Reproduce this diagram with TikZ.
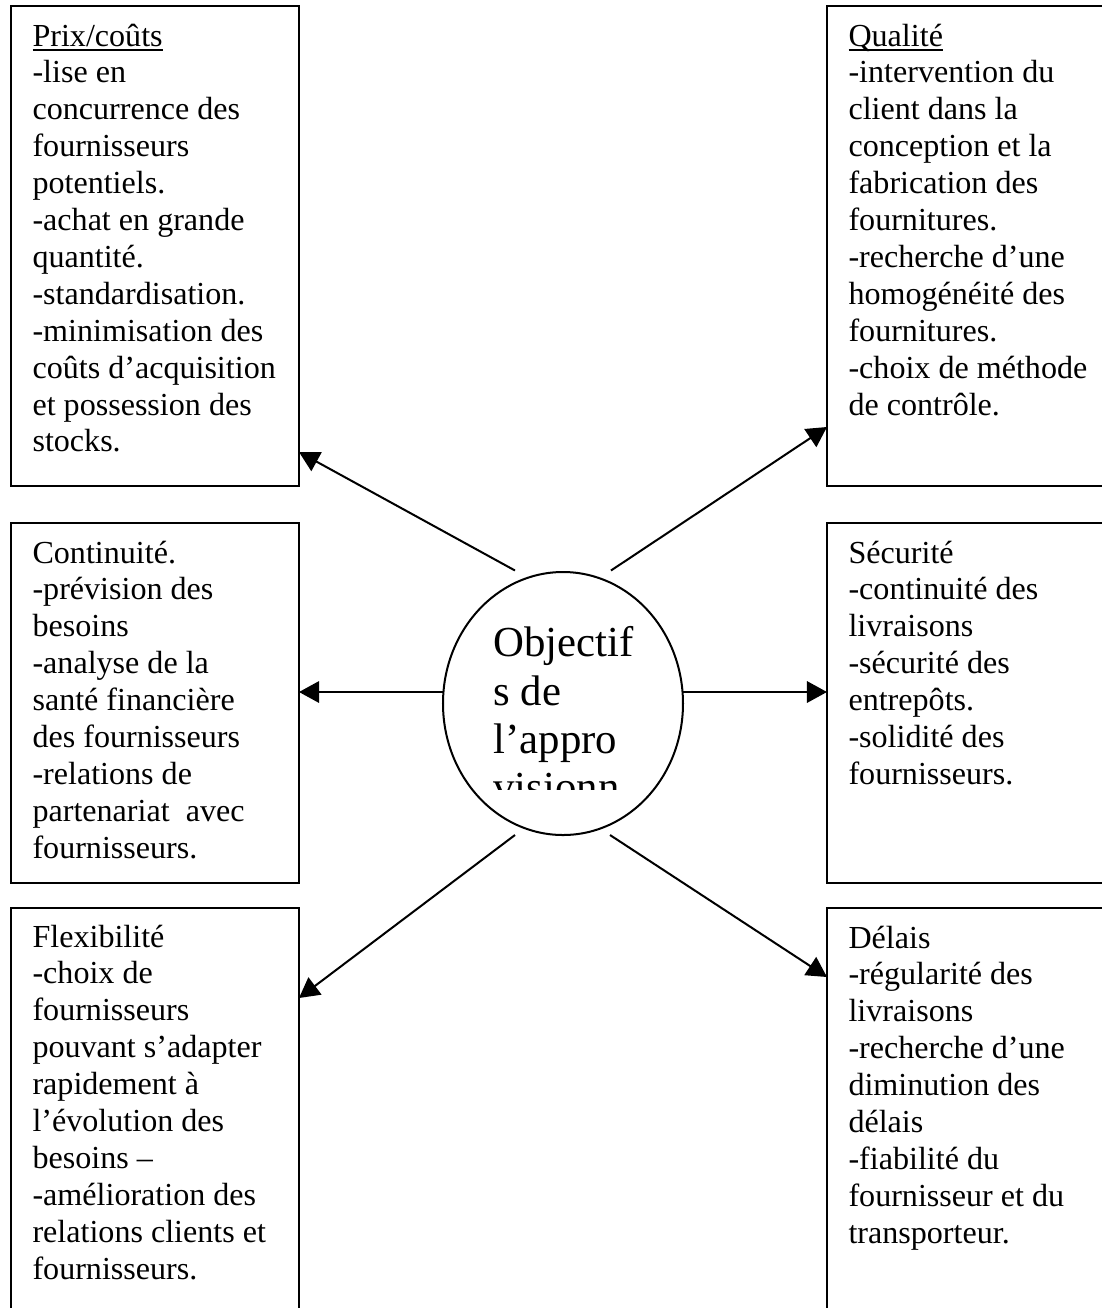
\documentclass[tikz,border=0pt]{standalone}
\usepackage{fontspec}
\setmainfont{Liberation Serif}
\usetikzlibrary{arrows.meta,shapes.geometric,calc}
\newcommand\myul[1]{\leavevmode\setbox0\hbox{#1}\rlap{\rule[-1.75pt]{\wd0}{0.7pt}}\box0}
\begin{document}
\begin{tikzpicture}[x=0.374pt,y=-0.374pt,
  boxst/.style 2 args={draw, line width=0.75pt, rectangle, inner sep=0pt, outer sep=0pt,
    minimum width=#1*0.374pt, minimum height=#2*0.374pt},
  txt/.style={anchor=base west, inner sep=0pt, font=\fontsize{12}{13.8}\selectfont},
  arr/.style={line width=0.75pt, -{Triangle[length=7.5pt,width=8pt]}}]
\useasboundingbox (0,0) rectangle (1102,1308);
\clip (0,0) rectangle (1102,1308);

% boxes
\node[boxst={288}{480}] (prix) at (155,246) {};
\node[boxst={288}{360}] (cont) at (155,703) {};
\node[boxst={288}{432}] (flex) at (155,1124) {};
\node[boxst={293}{480}] (qual) at (973.5,246) {};
\node[boxst={293}{360}] (secu) at (973.5,703) {};
\node[boxst={293}{432}] (delais) at (973.5,1124) {};

% texts
\node[txt] (prixtxt) at ($(prix.north west)+(21,40)$) {\parbox[t]{130pt}{\myul{Prix/coûts}\\
-lise en\\
concurrence des\\
fournisseurs\\
potentiels.\\
-achat en grande\\
quantité.\\
-standardisation.\\
-minimisation des\\
coûts d’acquisition\\
et possession des\\
stocks.}};

\node[txt] (qualtxt) at ($(qual.north west)+(21,40)$) {\parbox[t]{130pt}{\myul{Qualité}\\
-intervention du\\
client dans la\\
conception et la\\
fabrication des\\
fournitures.\\
-recherche d’une\\
homogénéité des\\
fournitures.\\
-choix de méthode\\
de contrôle.}};

\node[txt] (conttxt) at ($(cont.north west)+(21,40)$) {\parbox[t]{130pt}{Continuité.\\
-prévision des\\
besoins\\
-analyse de la\\
santé financière\\
des fournisseurs\\
-relations de\\
partenariat\ \ avec\\
fournisseurs.}};

\node[txt] (secutxt) at ($(secu.north west)+(21,40)$) {\parbox[t]{130pt}{Sécurité\\
-continuité des\\
livraisons\\
-sécurité des\\
entrepôts.\\
-solidité des\\
fournisseurs.}};

\node[txt] (flextxt) at ($(flex.north west)+(21,39)$) {\parbox[t]{130pt}{Flexibilité\\
-choix de\\
fournisseurs\\
pouvant s’adapter\\
rapidement à\\
l’évolution des\\
besoins –\\
-amélioration des\\
relations clients et\\
fournisseurs.}};

\node[txt] (delaistxt) at ($(delais.north west)+(21,40)$) {\parbox[t]{130pt}{Délais\\
-régularité des\\
livraisons\\
-recherche d’une\\
diminution des\\
délais\\
-fiabilité du\\
fournisseur et du\\
transporteur.}};

% centre
\node[draw, ellipse, line width=0.75pt, inner sep=0pt, outer sep=0pt,
  minimum width=240*0.374pt, minimum height=263*0.374pt] (obj) at (563,703.5) {};
\begin{scope}
\clip (470,560) rectangle (660,789);
\node[anchor=base west, inner sep=0pt] (objtxt) at (493,656.7)
  {\parbox[t]{90pt}{\fontsize{16}{18.06}\selectfont Objectif\\s de\\l’appro\\visionn}};
\end{scope}

% connector start points
\coordinate (s1) at (515,570.5);
\coordinate (s2) at (611,570.5);
\coordinate (s3) at (443,692);
\coordinate (s4) at (683,692);
\coordinate (s5) at (515,835);
\coordinate (s6) at (610,835);

\draw[arr] (s1) -- ($(prix.south east)+(0,-34)$);
\draw[arr] (s2) -- ($(qual.south west)+(0,-59)$);
\draw[arr] (s3) -- ($(cont.east)+(0,-11)$);
\draw[arr] (s4) -- ($(secu.west)+(0,-11)$);
\draw[arr] (s5) -- ($(flex.north east)+(0,90)$);
\draw[arr] (s6) -- ($(delais.north west)+(0,69)$);
\end{tikzpicture}
\end{document}
